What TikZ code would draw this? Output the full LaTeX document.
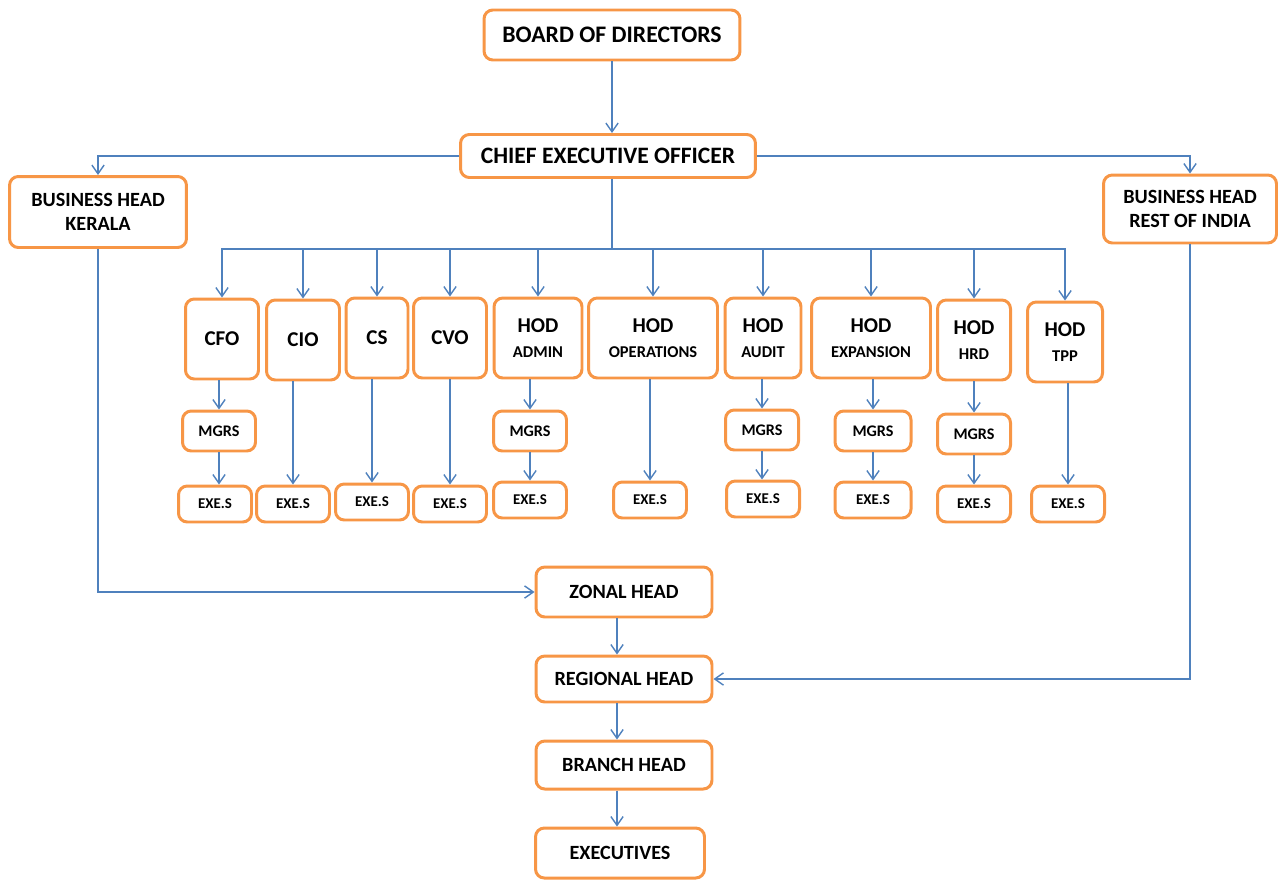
\documentclass[tikz,border=0pt]{standalone}
\usepackage{fontspec}
\setmainfont{Carlito}
\usetikzlibrary{arrows.meta,calc}
\definecolor{boxorange}{RGB}{247,150,70}
\definecolor{lineblue}{RGB}{79,129,189}
\newcommand\subt[1]{{\fontsize{9.4}{10}\selectfont #1}}

\begin{document}
\begin{tikzpicture}[x=0.02cm,y=-0.02cm,->,>={Straight Barb[length=5pt,width=7pt]},
  color=lineblue,line width=0.8pt,
  box/.style={draw=boxorange,fill=white,text=black,line width=1.7pt,rounded corners=5pt,
    align=center,inner sep=1pt,font=\bfseries\fontsize{11.5}{13.5}\selectfont},
  head/.style={box,minimum width=1.46cm,minimum height=1.6cm,font=\bfseries\fontsize{12}{13.5}\selectfont},
  mgr/.style={box,minimum width=1.46cm,minimum height=0.8cm,font=\bfseries\fontsize{9.2}{10}\selectfont},
  exe/.style={box,minimum width=1.46cm,minimum height=0.72cm,font=\bfseries\fontsize{8.5}{9}\selectfont}]
\useasboundingbox (0,0) rectangle (1280,882);
% top of the chart
\node[box,minimum width=5.12cm,minimum height=1cm,font=\bfseries\fontsize{13.5}{15}\selectfont] (bod) at (612,35) {BOARD OF DIRECTORS};
\node[box,minimum width=5.9cm,minimum height=0.86cm,font=\bfseries\fontsize{13.4}{15}\selectfont] (ceo) at (608,156) {CHIEF EXECUTIVE OFFICER};
\node[box,minimum width=3.54cm,minimum height=1.42cm] (bhk) at (98,212) {BUSINESS HEAD\\KERALA};
\node[box,minimum width=3.46cm,minimum height=1.36cm] (bhr) at (1190,209) {BUSINESS HEAD\\REST OF INDIA};
% heads of departments
\node[head] (cfo) at (222,339) {CFO};
\node[head] (cio) at (303,340) {CIO};
\node[head,minimum width=1.24cm] (cs) at (377,338) {CS};
\node[head] (cvo) at (450,338) {CVO};
\node[head,minimum width=1.76cm] (admin) at (538,338) {HOD\\[1pt]\subt{ADMIN}};
\node[head,minimum width=2.58cm] (ops) at (653,338) {HOD\\[1pt]\subt{OPERATIONS}};
\node[head,minimum width=1.52cm] (audit) at (763,338) {HOD\\[1pt]\subt{AUDIT}};
\node[head,minimum width=2.38cm] (expn) at (871,338) {HOD\\[1pt]\subt{EXPANSION}};
\node[head] (hrd) at (974,340) {HOD\\[1pt]\subt{HRD}};
\node[head,minimum width=1.5cm] (tpp) at (1065,342) {HOD\\[1pt]\subt{TPP}};
% managers
\node[mgr] (mcfo) at (219,431) {MGRS};
\node[mgr] (madmin) at (530,431) {MGRS};
\node[mgr] (maudit) at (762,430) {MGRS};
\node[mgr,minimum width=1.52cm] (mexpn) at (873,431) {MGRS};
\node[mgr] (mhrd) at (974,434) {MGRS};
% executives
\node[exe] (ecfo) at (215,504) {EXE.S};
\node[exe] (ecio) at (293,504) {EXE.S};
\node[exe] (ecs) at (372,502) {EXE.S};
\node[exe] (ecvo) at (450,504) {EXE.S};
\node[exe] (eadmin) at (530,500) {EXE.S};
\node[exe] (eops) at (650,500) {EXE.S};
\node[exe] (eaudit) at (763,499) {EXE.S};
\node[exe,minimum width=1.52cm] (eexpn) at (873,500) {EXE.S};
\node[exe] (ehrd) at (974,504) {EXE.S};
\node[exe] (etpp) at (1068,504) {EXE.S};
% field line
\node[box,minimum width=3.52cm,minimum height=1cm] (zone) at (624,592) {ZONAL HEAD};
\node[box,minimum width=3.52cm,minimum height=0.92cm] (reg) at (624,679) {REGIONAL HEAD};
\node[box,minimum width=3.52cm,minimum height=0.96cm] (brh) at (624,765) {BRANCH HEAD};
\node[box,minimum width=3.38cm,minimum height=1cm] (exec) at (620,853) {EXECUTIVES};
\coordinate (bus) at (612,249);
\coordinate (trunk) at (617,0);
\draw (bod) -- (bod |- ceo.north);
\draw (ceo.west) -| (bhk); \draw (ceo.east) -| (bhr);
\draw[-] (bus |- ceo.south) -- (bus);
\foreach \n in {cfo,cio,cs,cvo,admin,ops,audit,expn,hrd,tpp} \draw (bus) -| (\n);
\foreach \n in {cfo,admin,audit,expn,hrd} {
  \draw (m\n |- \n.south) -- (m\n); \draw (m\n) -- (m\n |- e\n.north);}
\foreach \n in {cio,cs,cvo,ops,tpp} \draw (e\n |- \n.south) -- (e\n);
\draw (bhk) |- (zone); \draw (bhr) |- (reg);
\draw (trunk |- zone.south) -- (trunk |- reg.north);
\draw (trunk |- reg.south) -- (trunk |- brh.north);
\draw (trunk |- brh.south) -- (trunk |- exec.north);
\end{tikzpicture}
\end{document}
